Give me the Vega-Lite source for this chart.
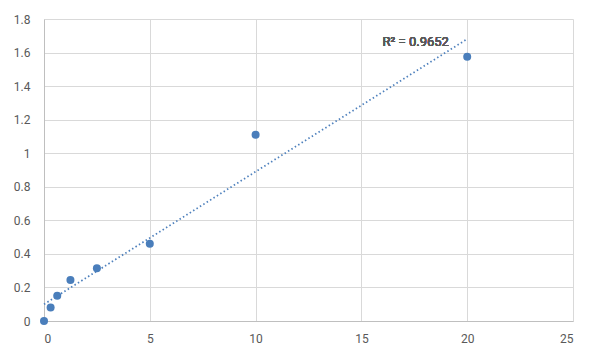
{
  "$schema": "https://vega.github.io/schema/vega-lite/v6.json",
  "autosize": {"type": "none"},
  "width": 529,
  "height": 302,
  "padding": {"left": 44, "top": 19, "right": 27, "bottom": 40},
  "background": "white",
  "config": {
    "view": {"stroke": null},
    "font": "Roboto",
    "axis": {
      "labelFont": "Roboto",
      "labelFontSize": 12,
      "labelFontWeight": "normal",
      "labelColor": "#595959",
      "labelOverlap": false,
      "gridColor": "#d9d9d9",
      "gridWidth": 1,
      "domainColor": "#bfbfbf",
      "domainWidth": 1,
      "ticks": false,
      "title": null
    }
  },
  "data": {
    "values": [
      {"x": 0, "y": 0},
      {"x": 0.3125, "y": 0.08},
      {"x": 0.625, "y": 0.15},
      {"x": 1.25, "y": 0.245},
      {"x": 2.5, "y": 0.315},
      {"x": 5, "y": 0.46},
      {"x": 10, "y": 1.11},
      {"x": 20, "y": 1.575}
    ]
  },
  "encoding": {
    "x": {
      "field": "x", "type": "quantitative",
      "scale": {"domain": [0, 25], "nice": false},
      "axis": {"values": [0, 5, 10, 15, 20, 25], "labelPadding": 12, "format": "~g"}
    },
    "y": {
      "field": "y", "type": "quantitative",
      "scale": {"domain": [0, 1.8], "nice": false},
      "axis": {"values": [0, 0.2, 0.4, 0.6, 0.8, 1, 1.2, 1.4, 1.6, 1.8], "labelPadding": 14, "format": "~g"}
    }
  },
  "layer": [
    {
      "transform": [{"regression": "y", "on": "x", "extent": [0, 20]}],
      "mark": {"type": "line", "color": "#4f81bd", "strokeWidth": 1.75, "strokeDash": [1.5, 2.5]}
    },
    {
      "mark": {"type": "circle", "color": "#4a7ebb", "opacity": 1, "size": 64}
    },
    {
      "mark": {"type": "text", "align": "left", "baseline": "middle", "font": "Roboto", "fontWeight": "normal", "fontSize": 13, "color": "#595959"},
      "encoding": {
        "x": {"datum": 16, "type": "quantitative"},
        "y": {"datum": 1.66, "type": "quantitative"},
        "text": {"value": "R² = 0.9652"}
      }
    }
  ]
}
